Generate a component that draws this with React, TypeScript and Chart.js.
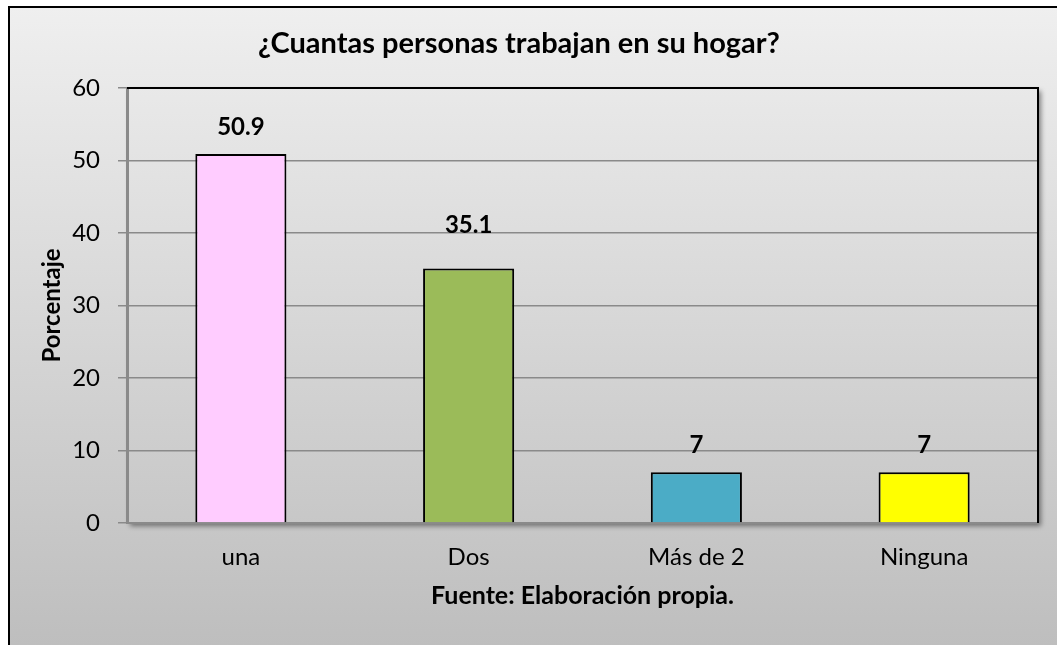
import React, { useEffect, useRef } from "react";
import { Chart, registerables } from "chart.js";

Chart.register(...registerables);

// ---- data ----
const categories = ["una", "Dos", "Más de 2", "Ninguna"];
const values = [50.9, 35.1, 7, 7];
const barColors = ["#FFCCFF", "#9BBB59", "#4BACC6", "#FFFF00"];
const yMin = 0;
const yMax = 60;
const yStep = 10;
const titleText = "¿Cuantas personas trabajan en su hogar?";
const yTitle = "Porcentaje";
const xTitle = "Fuente: Elaboración propia.";

const FONT = "Lato, 'Open Sans', sans-serif";
const W = 1057;
const H = 645;
// label baseline offsets above bar tops (style, mimicking the original placement)
const labelOffsets = [18.5, 35.5, 19.5, 19.5];

const bgPlugin = {
  id: "bgPlugin",
  beforeDraw(chart: any) {
    const { ctx, width, height, chartArea: ca } = chart;
    ctx.save();
    ctx.fillStyle = "#ffffff";
    ctx.fillRect(0, 0, width, height);
    const g = ctx.createLinearGradient(0, 7, 0, height);
    g.addColorStop(0, "#efefef");
    g.addColorStop(1, "#bebebe");
    ctx.fillStyle = g;
    ctx.fillRect(9, 7, width - 9, height - 7);
    ctx.strokeStyle = "#000";
    ctx.lineWidth = 2;
    ctx.beginPath();
    ctx.moveTo(9, height + 5);
    ctx.lineTo(9, 7);
    ctx.lineTo(width + 5, 7);
    ctx.stroke();
    // plot area with shadow
    ctx.shadowColor = "rgba(0,0,0,0.45)";
    ctx.shadowBlur = 5;
    ctx.shadowOffsetX = 3;
    ctx.shadowOffsetY = 3;
    ctx.fillStyle = g;
    ctx.fillRect(ca.left, ca.top, ca.right - ca.left, ca.bottom - ca.top);
    ctx.restore();
  },
  afterDatasetsDraw(chart: any) {
    const { ctx, chartArea: ca } = chart;
    ctx.save();
    ctx.strokeStyle = "#000";
    ctx.lineWidth = 2;
    ctx.beginPath();
    ctx.moveTo(ca.left, ca.top);
    ctx.lineTo(ca.right, ca.top);
    ctx.lineTo(ca.right, ca.bottom);
    ctx.stroke();
    const meta = chart.getDatasetMeta(0);
    ctx.fillStyle = "#000";
    ctx.font = `bold 24px ${FONT}`;
    ctx.textAlign = "center";
    ctx.textBaseline = "alphabetic";
    meta.data.forEach((el: any, i: number) => {
      const v = chart.data.datasets[0].data[i];
      ctx.fillText(String(v), el.x, el.y - labelOffsets[i]);
    });
    ctx.restore();
  },
};

export default function App() {
  const ref = useRef<HTMLCanvasElement | null>(null);
  useEffect(() => {
    if (!ref.current) return;
    const chart = new Chart(ref.current, {
      type: "bar",
      data: {
        labels: categories,
        datasets: [
          {
            data: values,
            backgroundColor: barColors,
            borderColor: "#000",
            borderWidth: 2,
            barPercentage: 0.4,
            categoryPercentage: 1.0,
          },
        ],
      },
      options: {
        responsive: false,
        animation: false,
        devicePixelRatio: 1,
        layout: { padding: { left: 0, right: 19, top: 0, bottom: 0 } },
        plugins: {
          legend: { display: false },
          tooltip: { enabled: false },
          title: {
            display: true,
            text: titleText,
            color: "#000",
            font: { family: FONT, size: 29, weight: "bold" },
            padding: { top: 26, bottom: 27.2 },
          },
        },
        scales: {
          x: {
            grid: { display: false, drawTicks: false },
            border: { display: true, color: "#8a8a8a", width: 2 },
            ticks: {
              color: "#000",
              font: { family: FONT, size: 24 },
              padding: 20,
            },
            title: {
              display: true,
              text: xTitle,
              color: "#000",
              font: { family: FONT, size: 25, weight: "bold" },
              padding: { top: 0, bottom: 34 },
            },
            afterFit(scale: any) {
              scale.height = 122;
            },
          },
          y: {
            min: yMin,
            max: yMax,
            ticks: {
              stepSize: yStep,
              color: "#000",
              font: { family: FONT, size: 24 },
              padding: 18,
            },
            grid: {
              color: (c: any) => (c.tick && c.tick.value === yMax ? "rgba(0,0,0,0)" : "#8a8a8a"),
              tickColor: "#8a8a8a",
              lineWidth: 1.5,
              tickLength: 9,
            },
            border: { display: true, color: "#8a8a8a", width: 3 },
            title: {
              display: true,
              text: yTitle,
              color: "#000",
              font: { family: FONT, size: 24, weight: "bold" },
              padding: { top: 38, bottom: 0 },
            },
            afterFit(scale: any) {
              scale.width = 127;
            },
          },
        },
      },
      plugins: [bgPlugin],
    });
    return () => chart.destroy();
  }, []);
  return (
    <canvas
      ref={ref}
      width={W}
      height={H}
      style={{ position: "fixed", left: 0, top: 0, width: W, height: H }}
    />
  );
}
